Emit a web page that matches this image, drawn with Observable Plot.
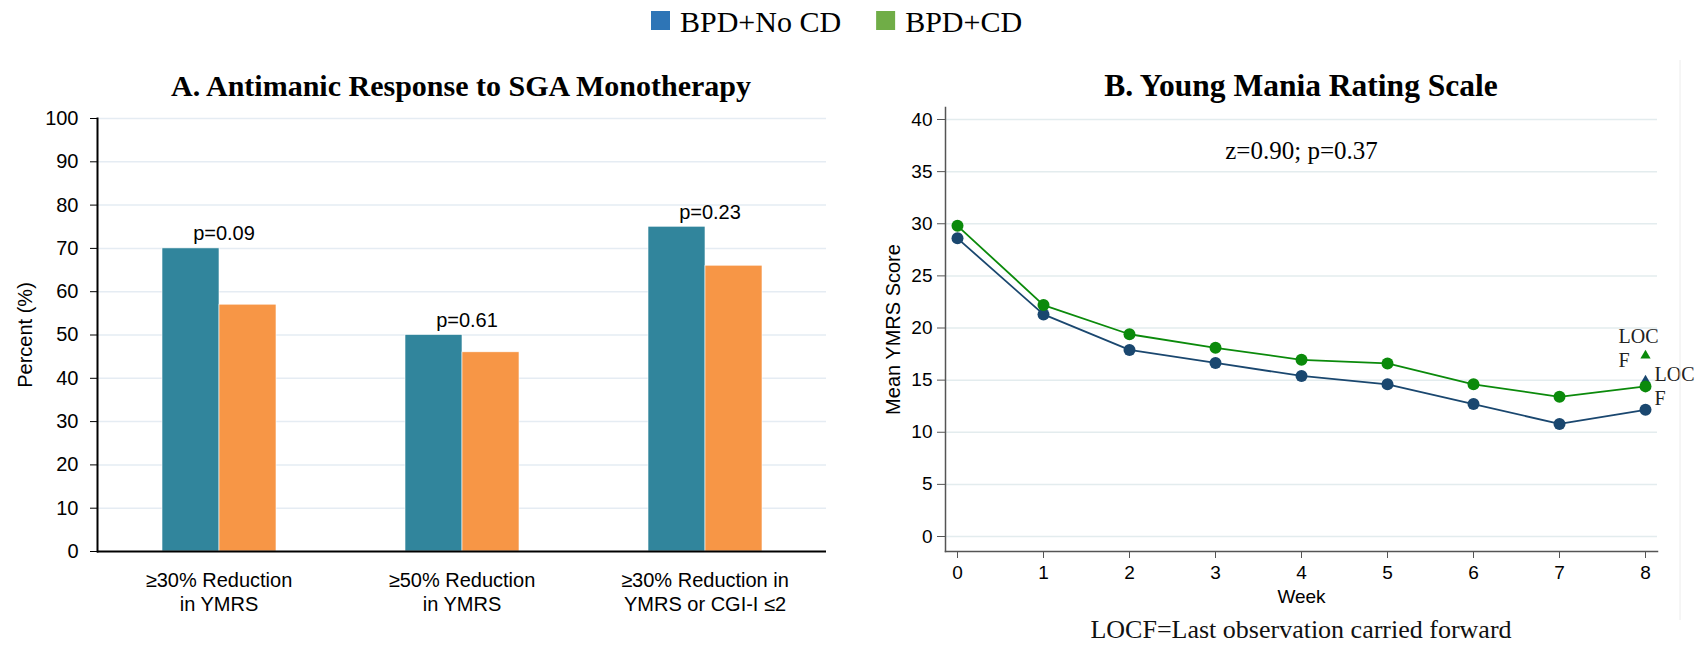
<!DOCTYPE html>
<html>
<head>
<meta charset="utf-8">
<script src="https://cdn.jsdelivr.net/npm/d3@7"></script>
<script src="https://cdn.jsdelivr.net/npm/@observablehq/plot@0.6"></script>
<style>
  html, body { margin: 0; padding: 0; background: #fff; }
  body { width: 1704px; height: 645px; position: relative; overflow: hidden; }
  .abs { position: absolute; }
  #overlay { left: 0; top: 0; pointer-events: none; }
  #chartA { left: 0; top: 90px; }
  #chartB { left: 860px; top: 90px; }
</style>
</head>
<body>
<div id="chartA" class="abs"></div>
<div id="chartB" class="abs"></div>
<svg id="overlay" class="abs" width="1704" height="645"></svg>
<script>
// ---------- DATA ----------
const groups = ["BPD+No CD", "BPD+CD"];
const legendColors = ["#2e75b6", "#70ad47"];
const categories = ["≥30% Reduction\nin YMRS", "≥50% Reduction\nin YMRS", "≥30% Reduction in\nYMRS or CGI-I ≤2"];
const noCdPct = [70, 50, 75];
const cdPct = [57, 46, 66];
const pValues = ["p=0.09", "p=0.61", "p=0.23"];
const yTicksA = [0, 10, 20, 30, 40, 50, 60, 70, 80, 90, 100];

const weeks = [0, 1, 2, 3, 4, 5, 6, 7, 8];
const ymrsNoCd = [28.6, 21.3, 17.9, 16.65, 15.4, 14.6, 12.7, 10.8, 12.15];
const ymrsCd = [29.8, 22.2, 19.4, 18.1, 16.95, 16.6, 14.6, 13.4, 14.4];
const locfWeek = 8;
const locfNoCd = 14.95;
const locfCd = 17.35;
const locfLabel = "LOC\nF";
const statText = "z=0.90; p=0.37";
const yTicksB = [0, 5, 10, 15, 20, 25, 30, 35, 40];

const titleA = "A. Antimanic Response to SGA Monotherapy";
const titleB = "B. Young Mania Rating Scale";
const footer = "LOCF=Last observation carried forward";

// ---------- PANEL A ----------
const barData = categories.flatMap((c, i) => [
  {cat: c, group: groups[0], v: noCdPct[i]},
  {cat: c, group: groups[1], v: cdPct[i]}
]);
const pData = categories.map((c, i) => ({cat: c, p: pValues[i], v: Math.max(noCdPct[i], cdPct[i])}));

const sans = "'Liberation Sans', Arial, Helvetica, sans-serif";
const serif = "'Liberation Serif', 'Times New Roman', Times, serif";

const chartA = Plot.plot({
  width: 850, height: 530,
  marginLeft: 96, marginRight: 24, marginTop: 28, marginBottom: 69,
  style: {fontFamily: sans, fontSize: "20px", color: "#000", background: "transparent", overflow: "visible"},
  fx: {domain: categories, padding: 0, label: null},
  x: {domain: groups, paddingInner: 0, paddingOuter: 1.1, axis: null},
  y: {domain: [0, 100], label: null},
  color: {domain: groups, range: ["#31859c", "#f79646"]},
  marks: [
    Plot.gridY(yTicksA.filter(d => d > 0), {stroke: "#e5ecf3", strokeOpacity: 1, strokeWidth: 1.5}),
    Plot.barY(barData, {fx: "cat", x: "group", y: "v", fill: "group", stroke: "#ffffff", strokeWidth: 0.6}),
    Plot.ruleY([0], {stroke: "#000", strokeWidth: 2}),
    Plot.frame({anchor: "left", facetAnchor: "left", stroke: "#000", strokeWidth: 2}),
    Plot.axisY(yTicksA, {tickSize: 7, tickPadding: 12, stroke: "#000", fontSize: 20,
      label: "Percent (%)", labelAnchor: "center", labelArrow: "none", labelOffset: 80}),
    Plot.axisFx({anchor: "bottom", tickSize: 0, tickPadding: 18, fontSize: 20, lineHeight: 1.2, label: null}),
    Plot.text(pData, {fx: "cat", y: "v", text: "p", dy: -8, dx: 5, lineAnchor: "bottom", fontSize: 20, fill: "#000"})
  ]
});
document.getElementById("chartA").appendChild(chartA);

// ---------- PANEL B ----------
const lineNoCd = weeks.map((w, i) => ({week: w, v: ymrsNoCd[i]}));
const lineCd = weeks.map((w, i) => ({week: w, v: ymrsCd[i]}));
const navy = "#1a476f";
const green = "#0b8a0b";

const chartB = Plot.plot({
  width: 844, height: 520,
  marginLeft: 85, marginRight: 47, marginTop: 17, marginBottom: 59,
  style: {fontFamily: sans, fontSize: "19px", color: "#000", background: "transparent", overflow: "visible"},
  x: {domain: [0, 8], insetLeft: 12, insetRight: 12},
  y: {domain: [0, 40], insetTop: 12, insetBottom: 15},
  marks: [
    Plot.gridY(yTicksB, {stroke: "#e3ecee", strokeOpacity: 1, strokeWidth: 1.5}),
    Plot.frame({anchor: "left", stroke: "#555", strokeWidth: 1.5}),
    Plot.frame({anchor: "bottom", stroke: "#555", strokeWidth: 1.5}),
    Plot.axisY(yTicksB, {tickSize: 8, tickPadding: 5, stroke: "#555", fontSize: 19, label: null}),
    Plot.axisY({label: "Mean YMRS Score", labelAnchor: "center", labelArrow: "none", labelOffset: 60,
      fontSize: 20, ticks: [], tickSize: 0}),
    Plot.axisX(weeks, {tickSize: 7, tickPadding: 7, stroke: "#555", fontSize: 19,
      label: "Week", labelAnchor: "center", labelArrow: "none", labelOffset: 51}),
    Plot.dot([{week: locfWeek, v: locfNoCd}], {x: "week", y: "v", symbol: "triangle", r: 3.8, fill: navy}),
    Plot.dot([{week: locfWeek, v: locfCd}], {x: "week", y: "v", symbol: "triangle", r: 3.8, fill: green}),
    Plot.line(lineNoCd, {x: "week", y: "v", stroke: navy, strokeWidth: 1.8}),
    Plot.dot(lineNoCd, {x: "week", y: "v", r: 6, fill: navy}),
    Plot.line(lineCd, {x: "week", y: "v", stroke: green, strokeWidth: 1.8}),
    Plot.dot(lineCd, {x: "week", y: "v", r: 6, fill: green}),
    Plot.text([{week: locfWeek, v: locfCd}], {x: "week", y: "v", text: () => locfLabel,
      textAnchor: "start", dx: -27, dy: -8, lineHeight: 1.2, fontSize: 20, fontFamily: serif, fill: "#222"}),
    Plot.text([{week: locfWeek, v: locfNoCd}], {x: "week", y: "v", text: () => locfLabel,
      textAnchor: "start", dx: 9, dy: 5, lineHeight: 1.2, fontSize: 20, fontFamily: serif, fill: "#222"}),
    Plot.text([statText], {frameAnchor: "top", text: d => d, dy: 51, lineAnchor: "bottom",
      fontSize: 25, fontFamily: serif, fill: "#000"})
  ]
});
document.getElementById("chartB").appendChild(chartB);

// ---------- TITLES, LEGEND, FOOTER ----------
const svg = d3.select("#overlay");
svg.append("line").attr("x1", 1680).attr("x2", 1680).attr("y1", 60).attr("y2", 620)
  .attr("stroke", "#ececec").attr("stroke-width", 1);
svg.append("text").attr("x", 461).attr("y", 96).attr("text-anchor", "middle")
  .attr("font-family", serif).attr("font-weight", "bold").attr("font-size", 30).attr("fill", "#000").text(titleA);
svg.append("text").attr("x", 1301).attr("y", 96).attr("text-anchor", "middle")
  .attr("font-family", serif).attr("font-weight", "bold").attr("font-size", 31.5).attr("fill", "#000").text(titleB);
svg.append("text").attr("x", 1301).attr("y", 638).attr("text-anchor", "middle")
  .attr("font-family", serif).attr("font-size", 26).attr("fill", "#111").text(footer);

let lx = 651;
groups.forEach((g, i) => {
  svg.append("rect").attr("x", lx).attr("y", 11).attr("width", 19).attr("height", 19).attr("fill", legendColors[i]);
  const t = svg.append("text").attr("x", lx + 29).attr("y", 32)
    .attr("font-family", serif).attr("font-size", 30).attr("fill", "#000").text(g);
  lx = lx + 29 + t.node().getComputedTextLength() + 35;
});
</script>
</body>
</html>
